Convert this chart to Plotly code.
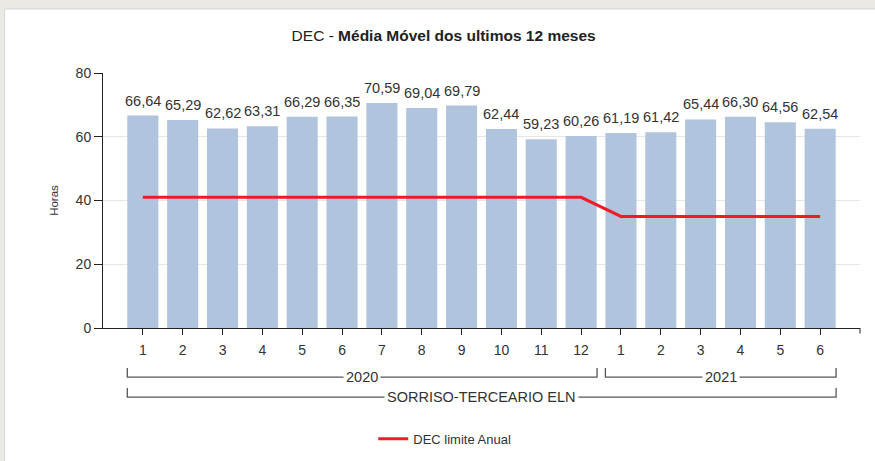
import plotly.graph_objects as go

months = ["1","2","3","4","5","6","7","8","9","10","11","12","1","2","3","4","5","6"]
years = ["2020"]*12 + ["2021"]*6
region = "SORRISO-TERCEARIO ELN"
dec_values = [66.64, 65.29, 62.62, 63.31, 66.29, 66.35, 70.59, 69.04, 69.79,
              62.44, 59.23, 60.26, 61.19, 61.42, 65.44, 66.30, 64.56, 62.54]
dec_limit = [41]*12 + [35]*6
y_ticks = [0, 20, 40, 60, 80]

idx = list(range(len(months)))
FONT = "Arial, Liberation Sans, sans-serif"

fig = go.Figure()
fig.add_trace(go.Bar(
    x=idx, y=dec_values, width=0.78,
    marker=dict(color="#b0c4de", line=dict(width=0)),
    showlegend=False, hoverinfo="skip",
))
fig.add_trace(go.Scatter(
    x=idx, y=dec_limit, mode="lines",
    line=dict(color="#ee1c25", width=3),
    name="DEC limite Anual",
))

shapes = []
annotations = []

# value labels above bars
for i, v in zip(idx, dec_values):
    annotations.append(dict(x=i, y=v, xref="x", yref="y",
                            text=f"{v:.2f}".replace(".", ","), showarrow=False,
                            yanchor="middle", yshift=15,
                            font=dict(family=FONT, size=14.5, color="#333333")))

# white card
shapes.append(dict(type="rect", xref="paper", yref="paper",
                   x0=-0.13, x1=1.05, y0=-0.7, y1=1.251,
                   fillcolor="white", line=dict(color="#d6d6d6", width=1),
                   layer="below"))
# right end tick of x axis
shapes.append(dict(type="line", xref="paper", yref="paper",
                   x0=1, x1=1, y0=0, y1=-0.022, line=dict(color="#222", width=1)))

def bracket(x0, x1, ytop, ybot, label, lx):
    shapes.append(dict(type="path", xref="x", yref="paper",
                       path=f"M {x0},{ytop} L {x0},{ybot} L {x1},{ybot} L {x1},{ytop}",
                       line=dict(color="#555555", width=1.3)))
    annotations.append(dict(x=lx, y=ybot, xref="x", yref="paper", text=label,
                            showarrow=False, bgcolor="white", borderpad=2,
                            font=dict(family=FONT, size=14.5, color="#333333"),
                            xanchor="center", yanchor="middle"))

for yr in ["2020", "2021"]:
    ids = [i for i, y in enumerate(years) if y == yr]
    a, b = ids[0] - 0.39, ids[-1] + 0.4
    bracket(a, b, -0.157, -0.193, yr, (a + b) / 2)

bracket(-0.39, len(months) - 1 + 0.4, -0.235, -0.271, region, (len(months) - 1) / 2)

fig.update_layout(
    width=875, height=461,
    margin=dict(l=103, r=15, t=73, b=133, autoexpand=False),
    paper_bgcolor="#ebe9e3", plot_bgcolor="white",
    separators=",.",
    font=dict(family=FONT, color="#333333"),
    title=dict(text="DEC - <b>Média Móvel dos ultimos 12 meses</b>",
               x=0.45, xref="paper", xanchor="center",
               y=1 - 36/461, yref="container", yanchor="middle",
               font=dict(family=FONT, size=15.5, color="#222222")),
    xaxis=dict(range=[-1, len(months)], tickvals=idx, ticktext=months,
               showgrid=False, zeroline=False, showline=True, linecolor="#222",
               linewidth=1, ticks="outside", ticklen=6, tickcolor="#222",
               ticklabelstandoff=3,
               tickfont=dict(family=FONT, size=14, color="#333333")),
    yaxis=dict(range=[0, 80], tickvals=y_ticks, showgrid=True, gridcolor="#e6e6e6",
               zeroline=False, showline=True, linecolor="#222", linewidth=1,
               ticks="outside", ticklen=8, tickcolor="#222",
               tickfont=dict(family=FONT, size=14, color="#333333"),
               title=dict(text="Horas", standoff=14,
                          font=dict(family=FONT, size=11.5, color="#333333"))),
    legend=dict(orientation="h", x=0.357, xanchor="left", y=-0.435, yanchor="middle",
                font=dict(family=FONT, size=13, color="#333333"),
                bgcolor="rgba(0,0,0,0)", itemwidth=30),
    shapes=shapes, annotations=annotations,
)

fig.write_html("out.html", config={"displayModeBar": False},
               post_script="document.body.style.margin='0';document.body.style.background='#ebe9e3';")
